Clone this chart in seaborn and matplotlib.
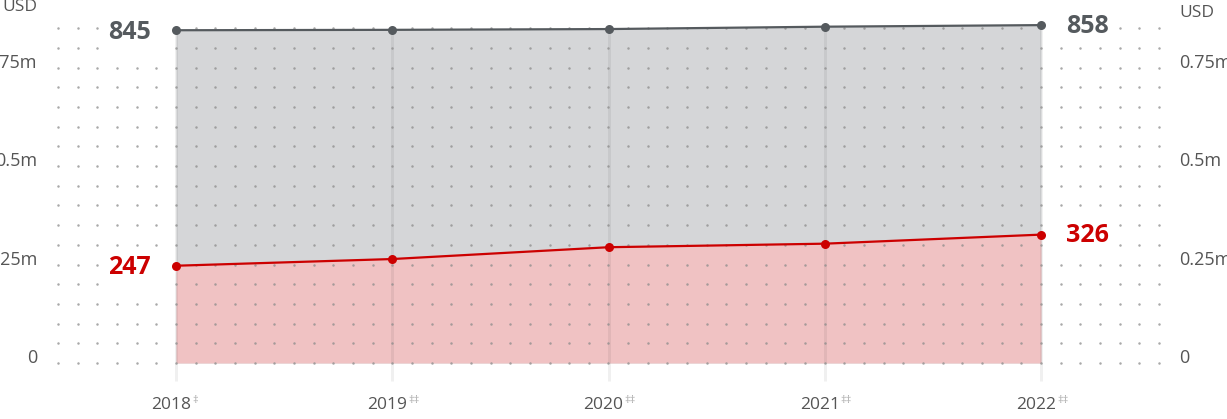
import matplotlib
matplotlib.use("Agg")
import matplotlib.pyplot as plt
import matplotlib.transforms as mtransforms
import numpy as np
import pandas as pd
import seaborn as sns

# ---- data (thousand USD) ----
years = [2018, 2019, 2020, 2021, 2022]
year_labels = ["2018", "2019", "2020", "2021", "2022"]
year_marks = ["‡", "‡‡", "‡‡", "‡‡", "‡‡"]
total_values = [845, 846, 848, 854, 858]
part_values = [247, 264, 294, 303, 326]
tick_values = [0, 250, 500, 750]
tick_labels = ["0", "0.25m", "0.5m", "0.75m"]
unit_label = "USD"

GREY_LINE = "#555a5e"
GREY_FILL = "#d5d6d8"
RED_LINE = "#cc0000"
RED_FILL = "#f0c2c3"
TEXT = "#555555"

sns.set_style("white")
plt.rcParams["font.family"] = ["Open Sans", "DejaVu Sans"]

W, H, DPI = 1227, 419, 100
fig = plt.figure(figsize=(W / DPI, H / DPI), dpi=DPI)
ax = fig.add_axes([0, 0, 1, 1])

# pixel geometry of the plotting frame
x0_px, step_px = 176, 216.25
zero_px, px_per_unit = 363, 0.3938
ax.set_xlim(years[0] - x0_px / step_px, years[0] + (W - x0_px) / step_px)
ax.set_ylim(-(H - zero_px) / px_per_unit, zero_px / px_per_unit)
ax.axis("off")

# filled areas
ax.fill_between(years, 0, total_values, color=GREY_FILL, lw=0, zorder=1)
ax.fill_between(years, 0, part_values, color=RED_FILL, lw=0, zorder=2)

# vertical year guides
guide_bottom = -18 / px_per_unit
ax.vlines(years, guide_bottom, total_values, color="black", alpha=0.06, lw=2.2, zorder=3)

# dotted background grid
gx = np.arange(years[0] - 6 / 11, years[-1] + 6 / 11 + 1e-6, 1 / 11)
gy = np.arange(0, 851, 50)
GX, GY = np.meshgrid(gx, gy)
ax.scatter(GX.ravel(), GY.ravel(), s=3.2, color="#8c8c8c", alpha=0.75,
           linewidths=0, zorder=4)

# lines with markers
df = pd.DataFrame({
    "year": years * 2,
    "value": total_values + part_values,
    "series": ["total"] * len(years) + ["part"] * len(years),
})
sns.lineplot(data=df, x="year", y="value", hue="series",
             palette={"total": GREY_LINE, "part": RED_LINE},
             marker="o", markersize=6.5, markeredgewidth=0, linewidth=1.6,
             legend=False, ax=ax, zorder=6)

# end value labels
box = dict(boxstyle="square,pad=0.3", fc="white", ec="none")
for vals, col in ((total_values, GREY_LINE), (part_values, RED_LINE)):
    ax.annotate(f"{vals[0]}", xy=(years[0], vals[0]), xytext=(-25, -2),
                textcoords="offset pixels", ha="right", va="center",
                fontsize=18, fontweight="bold", color=col, bbox=box, zorder=5)
    ax.annotate(f"{vals[-1]}", xy=(years[-1], vals[-1]), xytext=(25, -1),
                textcoords="offset pixels", ha="left", va="center",
                fontsize=18, fontweight="bold", color=col, bbox=box, zorder=5)

# value axis labels on both sides
ytrans = mtransforms.blended_transform_factory(fig.transFigure, ax.transData)
for v, lab in zip(tick_values, tick_labels):
    t = mtransforms.offset_copy(ytrans, fig=fig, y=5, units="dots")
    ax.text(37 / W, v, lab, transform=t, ha="right", va="center",
            fontsize=13, color=TEXT)
    ax.text(1179 / W, v, lab, transform=t, ha="left", va="center",
            fontsize=13, color=TEXT)
fig.text(37 / W, 1 - 7 / H, unit_label, ha="right", va="center", fontsize=12.5, color=TEXT)
fig.text(1179 / W, 1 - 13 / H, unit_label, ha="left", va="center", fontsize=12.5, color=TEXT)

# year labels with footnote marks
label_y = -(405 - zero_px) / px_per_unit
for yr, lab, mk in zip(years, year_labels, year_marks):
    ax.annotate(lab, xy=(yr, label_y), xytext=(15, 0), textcoords="offset pixels",
                ha="right", va="center", fontsize=12.5, color=TEXT)
    ax.annotate(mk, xy=(yr, label_y), xytext=(16, 5), textcoords="offset pixels",
                ha="left", va="center", fontsize=8, color="#aaaaaa")

fig.savefig("out.png", dpi=DPI, facecolor="white")
